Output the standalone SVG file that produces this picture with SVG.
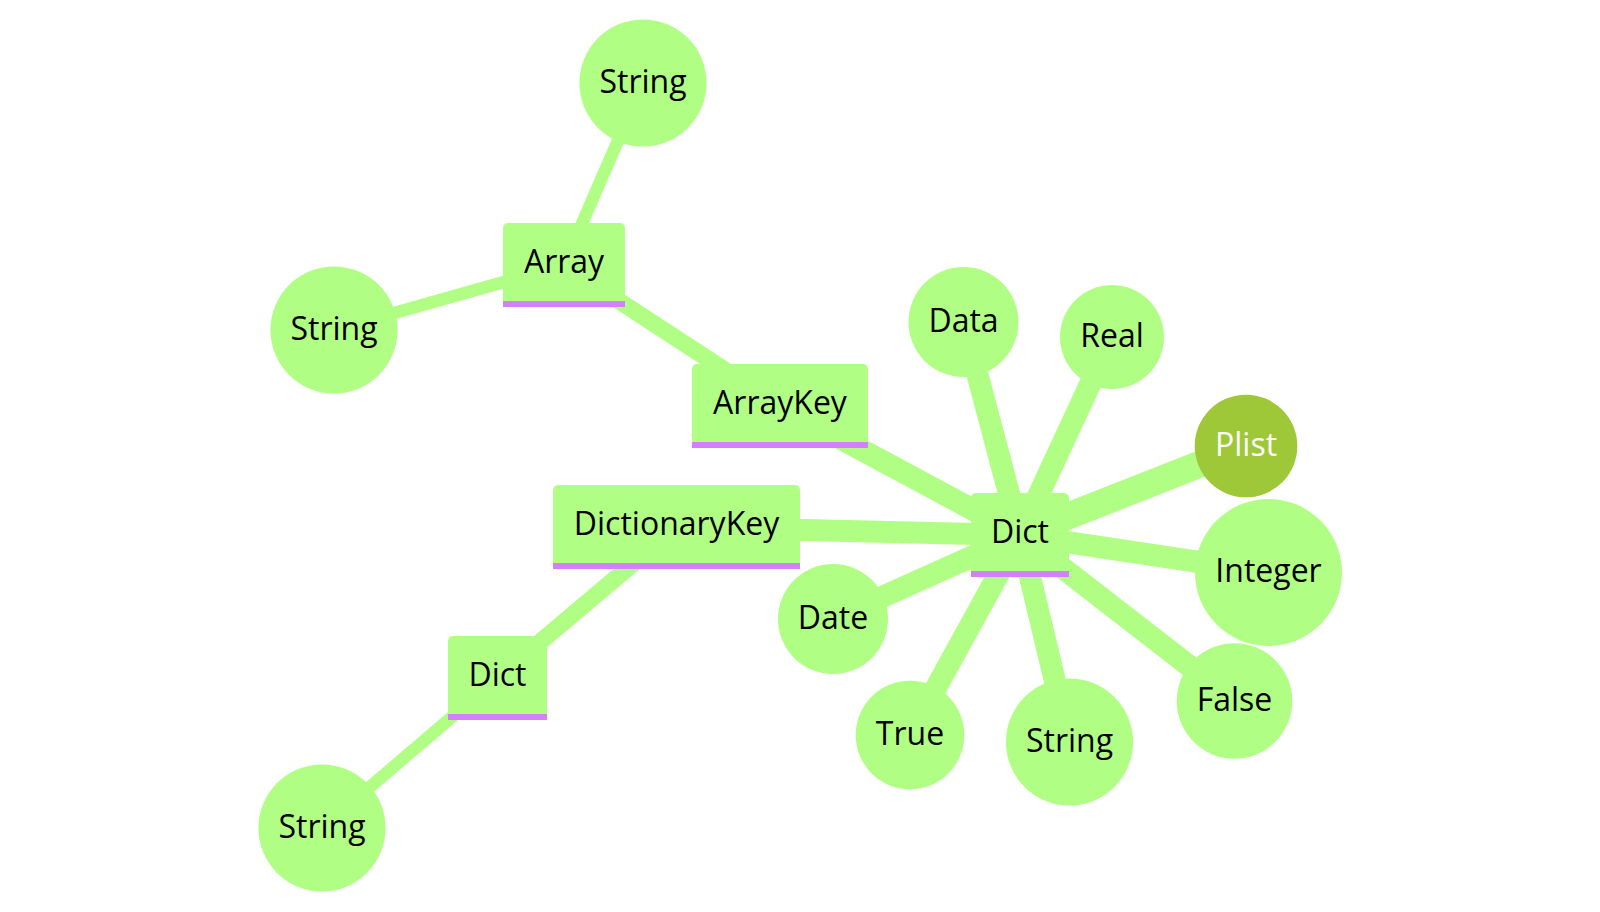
<svg xmlns="http://www.w3.org/2000/svg" width="1600" height="912" viewBox="0 0 1600 912">
<style>
.edge{stroke:#b0ff84;fill:none;stroke-linecap:butt}
.d0{stroke-width:27}
.d1{stroke-width:22}
.d2{stroke-width:17}
.d3{stroke-width:12.5}
.node{fill:#b0ff84}
.root{fill:#9ec837}
.bar{fill:#d280ff}
text{font-family:"Open Sans","Noto Sans",sans-serif;font-size:32px;text-anchor:middle;fill:#000}
text.rt{fill:#ffffff}
</style>
<rect width="1600" height="912" fill="#ffffff"/>
<g id="edges">
<line class="edge d0" x1="1246" y1="446" x2="1020" y2="535"/>
<line class="edge d1" x1="1020" y1="535" x2="963.5" y2="322"/>
<line class="edge d1" x1="1020" y1="535" x2="1112" y2="337"/>
<line class="edge d1" x1="1020" y1="535" x2="1268.5" y2="572.5"/>
<line class="edge d1" x1="1020" y1="535" x2="1234.5" y2="701"/>
<line class="edge d1" x1="1020" y1="535" x2="1069.5" y2="742"/>
<line class="edge d1" x1="1020" y1="535" x2="910" y2="735"/>
<line class="edge d1" x1="1020" y1="535" x2="833" y2="619"/>
<line class="edge d1" x1="1020" y1="535" x2="676.5" y2="527"/>
<line class="edge d1" x1="1020" y1="535" x2="780" y2="406"/>
<line class="edge d2" x1="780" y1="406" x2="564" y2="265"/>
<line class="edge d2" x1="676.5" y1="527" x2="497.5" y2="678"/>
<line class="edge d3" x1="564" y1="265" x2="643" y2="83"/>
<line class="edge d3" x1="564" y1="265" x2="334" y2="330"/>
<line class="edge d3" x1="497.5" y1="678" x2="322" y2="828"/>
</g>
<g id="plist"><circle class="root" cx="1246" cy="446" r="51.3"/><text class="rt" x="1246" y="455.5">Plist</text></g>
<g id="dict"><path class="node" d="M971 577 V498 a5 5 0 0 1 5 -5 H1064 a5 5 0 0 1 5 5 V577 Z"/><rect class="bar" x="971" y="571" width="98" height="6"/><text x="1020" y="543">Dict</text></g>
<g id="data"><circle class="node" cx="963.5" cy="322" r="55"/><text x="963.5" y="331.5">Data</text></g>
<g id="real"><circle class="node" cx="1112" cy="337" r="52"/><text x="1112" y="346.5">Real</text></g>
<g id="integer"><circle class="node" cx="1268.5" cy="572.5" r="73.5"/><text x="1268.5" y="582">Integer</text></g>
<g id="false"><circle class="node" cx="1234.5" cy="701" r="57.8"/><text x="1234.5" y="710.5">False</text></g>
<g id="string-r"><circle class="node" cx="1069.5" cy="742" r="63.6"/><text x="1069.5" y="751.5">String</text></g>
<g id="true"><circle class="node" cx="910" cy="735" r="54.3"/><text x="910" y="744.5">True</text></g>
<g id="date"><circle class="node" cx="833" cy="619" r="55"/><text x="833" y="628.5">Date</text></g>
<g id="dictionarykey"><path class="node" d="M553 569 V490 a5 5 0 0 1 5 -5 H795 a5 5 0 0 1 5 5 V569 Z"/><rect class="bar" x="553" y="563" width="247" height="6"/><text x="676.5" y="535">DictionaryKey</text></g>
<g id="arraykey"><path class="node" d="M692 448 V369 a5 5 0 0 1 5 -5 H863 a5 5 0 0 1 5 5 V448 Z"/><rect class="bar" x="692" y="442" width="176" height="6"/><text x="780" y="414">ArrayKey</text></g>
<g id="array"><path class="node" d="M503 307 V228 a5 5 0 0 1 5 -5 H620 a5 5 0 0 1 5 5 V307 Z"/><rect class="bar" x="503" y="301" width="122" height="6"/><text x="564" y="273">Array</text></g>
<g id="dict-sub"><path class="node" d="M448 720 V641 a5 5 0 0 1 5 -5 H542 a5 5 0 0 1 5 5 V720 Z"/><rect class="bar" x="448" y="714" width="99" height="6"/><text x="497.5" y="686">Dict</text></g>
<g id="string-top"><circle class="node" cx="643" cy="83" r="63.6"/><text x="643" y="92.5">String</text></g>
<g id="string-left"><circle class="node" cx="334" cy="330" r="63.6"/><text x="334" y="339.5">String</text></g>
<g id="string-bl"><circle class="node" cx="322" cy="828" r="63.6"/><text x="322" y="837.5">String</text></g>
</svg>
